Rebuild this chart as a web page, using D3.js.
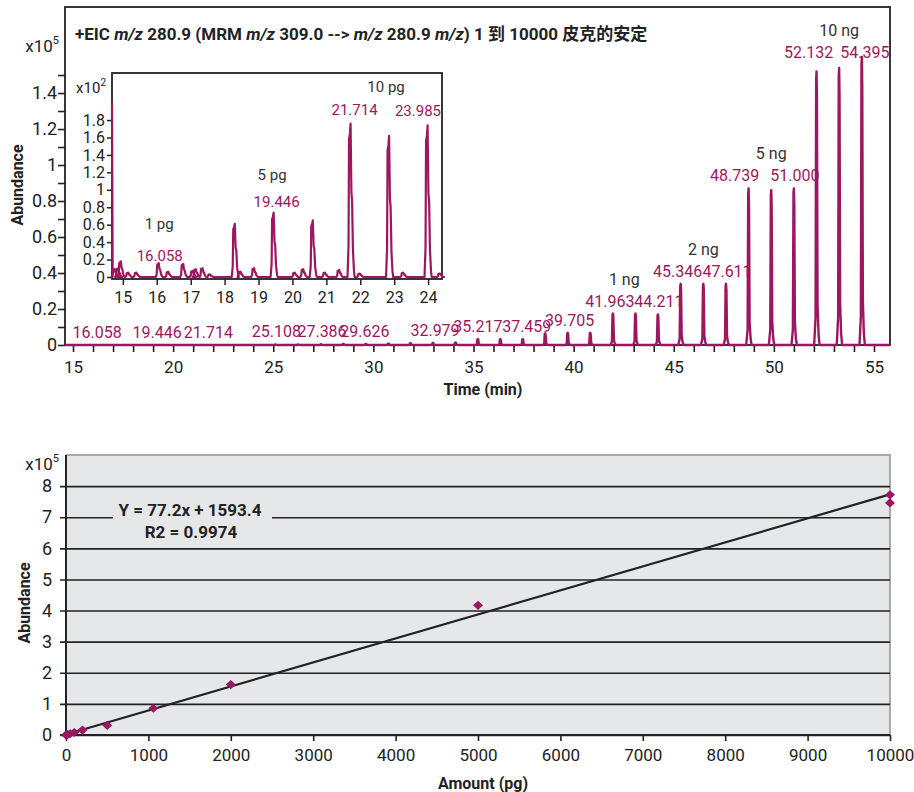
<!DOCTYPE html>
<html>
<head>
<meta charset="utf-8">
<script src="https://cdn.jsdelivr.net/npm/d3@7"></script>
<style>
body { margin: 0; background: #fff; }
text { font-family: Roboto, "Liberation Sans", "Noto Sans CJK SC", sans-serif; }
</style>
</head>
<body>
<div id="chart"></div>
<script>
// EIC trace peaks: retention time (min) and abundance (x10^5)
var peakTimes = [25.108, 26.24, 27.386, 28.5, 29.626, 30.75, 31.85, 32.979, 34.10, 35.217, 36.34, 37.459,
    38.58, 39.705, 40.83, 41.963, 43.09, 44.211, 45.346, 46.48, 47.611, 48.739, 49.87, 51.000,
    52.132, 53.26, 54.395];
var peakHeights = [0.003, 0.003, 0.004, 0.006, 0.006, 0.008, 0.01, 0.012, 0.014, 0.033, 0.033, 0.033,
    0.065, 0.068, 0.068, 0.175, 0.175, 0.17, 0.34, 0.34, 0.34, 0.87, 0.86, 0.87,
    1.52, 1.54, 1.6];
var peakLabelTimes = [16.058, 19.446, 21.714, 25.108, 27.386, 29.626, 32.979, 35.217, 37.459, 39.705,
    41.963, 44.211, 45.346, 47.611, 48.739, 51.000, 52.132, 54.395];
var groupNames = ['1 ng', '2 ng', '5 ng', '10 ng'];
var groupTimes = [42.53, 46.48, 49.87, 53.26];

// inset, 15-24 min (abundance x10^2)
var insetTimes = [14.76, 14.86, 14.94, 15.16, 15.40, 16.058, 16.34, 16.78, 17.06, 17.15, 17.35, 17.57,
    18.30, 18.47, 18.87, 19.446, 20.07, 20.32, 20.60, 20.96, 21.38, 21.714, 21.99, 22.85,
    23.27, 23.985, 24.35];
var insetHeights = [0.09, 0.1, 0.18, 0.05, 0.05, 0.16, 0.06, 0.15, 0.07, 0.09, 0.1, 0.03,
    0.61, 0.06, 0.1, 0.74, 0.05, 0.09, 0.65, 0.05, 0.08, 1.76, 0.04, 1.62,
    0.05, 1.74, 0.04];
var insetStartLevel = 2.0;
var insetLabelTimes = [16.058, 19.446, 21.714, 23.985];
var insetGroupNames = ['1 pg', '5 pg', '10 pg'];
var insetGroupTimes = [16.07, 19.40, 22.76];

// calibration (amount pg, abundance x10^5)
var amounts = [1, 5, 10, 20, 50, 100, 200, 500, 1060, 2000, 5000, 10000, 10000];
var abundances = [0.0007, 0.003, 0.007, 0.015, 0.04, 0.08, 0.16, 0.31, 0.86, 1.62, 4.17, 7.72, 7.46];
var fitSlope = 77.2;
var fitIntercept = 1593.4;
var fitR2 = 0.9974;

var timeTicks = d3.range(15, 56, 1);
var abundTicks = d3.range(0, 1.55, 0.1);
var insetTimeTicks = d3.range(15, 25, 1);
var insetAbundTicks = d3.range(0, 1.85, 0.2);
var amountTicks = d3.range(0, 10001, 1000);
var calTicks = d3.range(0, 9, 1);

// label nudges in px, same order as the label lists
var labelDx = [3, -5, 1, 1, 1, -1, 2, 0, 4, 2, -3, 1, -3, 1, -14, 1, -8, 3];
var labelDy = [0, 0, 0, 0, 0, 0, 0, 0, 0, 0, 0, 0, 0, 0, 0, 0, -6, 0];
var insetLabelDx = [1, 3, 4, 0];
var insetLabelDy = [3, 0, -4, -4];

var PURPLE = '#9c1760';

var svg = d3.select('#chart').append('svg')
    .attr('width', 914)
    .attr('height', 792);

function fmt(d) {
    return String(Math.round(d * 10) / 10);
}

// peak outline in (dt, fraction of height)
var mainShape = [[-0.12, 0], [-0.05, 0.1], [-0.02, 0.97], [0, 1], [0.02, 0.9], [0.05, 0.15], [0.1, 0.04], [0.15, 0]];
var insetShape = [[-0.09, 0], [-0.06, 0.2], [-0.045, 0.9], [-0.02, 0.93], [0, 1], [0.025, 0.55], [0.045, 0.5],
    [0.07, 0.18], [0.1, 0.04], [0.12, 0]];

function tracePoints(times, heights, shape, t0, t1, start) {
    var pts = [[t0, start || 0], [t0 + 0.02, 0]];
    for (var i = 0; i < times.length; i++) {
        for (var j = 0; j < shape.length; j++) {
            pts.push([times[i] + shape[j][0], heights[i] * shape[j][1]]);
        }
    }
    pts.push([t1, 0]);
    return pts;
}

function heightNear(times, heights, t, w) {
    var m = 0;
    for (var i = 0; i < times.length; i++) {
        if (Math.abs(times[i] - t) <= w) m = Math.max(m, heights[i]);
    }
    return m;
}

/* ---------- top chromatogram ---------- */
var x = d3.scaleLinear().domain([14.6, 55.8]).range([65, 890]);
var y = d3.scaleLinear().domain([0, 1.878]).range([345, 7]);

var chrom = svg.append('g');

chrom.append('g')
    .attr('transform', 'translate(0,345)')
    .call(d3.axisBottom(x).tickValues(timeTicks).tickSize(7).tickSizeOuter(0)
        .tickFormat(function (d) { return d % 5 === 0 ? d : ''; }))
    .call(function (g) {
        g.select('.domain').remove();
        g.selectAll('line').attr('stroke', '#222').attr('stroke-width', 1.6);
        g.selectAll('text').attr('font-size', 17).attr('fill', '#222').attr('dy', '1.05em');
    });

chrom.append('g')
    .attr('transform', 'translate(65,0)')
    .call(d3.axisLeft(y).tickValues(abundTicks).tickSize(7).tickSizeOuter(0)
        .tickFormat(function (d) { return Math.round(d * 10) % 2 === 0 ? fmt(d) : ''; }))
    .call(function (g) {
        g.select('.domain').remove();
        g.selectAll('line').attr('stroke', '#222').attr('stroke-width', 1.6);
        g.selectAll('text').attr('font-size', 18).attr('fill', '#222').attr('x', -8);
    });

chrom.append('rect')
    .attr('x', 65).attr('y', 7)
    .attr('width', 825).attr('height', 338)
    .attr('fill', 'none')
    .attr('stroke', '#222')
    .attr('stroke-width', 1.8);

var line = d3.line()
    .x(function (d) { return x(d[0]); })
    .y(function (d) { return y(d[1]); });

var labelY = function (h) {
    return Math.max(58, y(h) - 7);
};

chrom.selectAll('.plabel')
    .data(peakLabelTimes)
    .enter().append('text')
    .attr('class', 'plabel')
    .attr('x', function (d, i) { return x(d) + labelDx[i]; })
    .attr('y', function (d, i) { return labelY(heightNear(peakTimes, peakHeights, d, 0.05)) + labelDy[i]; })
    .attr('text-anchor', 'middle')
    .attr('font-size', 16)
    .attr('fill', PURPLE)
    .text(function (d) { return d.toFixed(3); });

chrom.selectAll('.glabel')
    .data(groupNames)
    .enter().append('text')
    .attr('class', 'glabel')
    .attr('x', function (d, i) { return x(groupTimes[i]); })
    .attr('y', function (d, i) { return labelY(heightNear(peakTimes, peakHeights, groupTimes[i], 1.2)) - 22; })
    .attr('text-anchor', 'middle')
    .attr('font-size', 16)
    .attr('fill', '#333')
    .text(function (d) { return d; });

chrom.append('path')
    .datum(tracePoints(peakTimes, peakHeights, mainShape, 14.6, 55.8))
    .attr('d', line)
    .attr('fill', 'none')
    .attr('stroke', PURPLE)
    .attr('stroke-width', 2.4)
    .attr('stroke-linejoin', 'round');

var title = chrom.append('text')
    .attr('x', 75).attr('y', 40)
    .attr('font-size', 17)
    .attr('font-weight', 'bold')
    .attr('fill', '#222');
var titleParts = [['+EIC ', false], ['m/z', true], [' 280.9 (MRM ', false], ['m/z', true], [' 309.0 --> ', false],
    ['m/z', true], [' 280.9 ', false], ['m/z', true], [') 1 到 10000 皮克的安定', false]];
titleParts.forEach(function (p) {
    title.append('tspan')
        .attr('font-style', p[1] ? 'italic' : 'normal')
        .text(p[0]);
});

var yExp = chrom.append('text').attr('x', 59).attr('y', 52).attr('text-anchor', 'end')
    .attr('font-size', 17).attr('fill', '#222');
yExp.append('tspan').text('x10');
yExp.append('tspan').attr('font-size', 11).attr('dy', -8).text('5');

chrom.append('text')
    .attr('transform', 'translate(23,185) rotate(-90)')
    .attr('text-anchor', 'middle')
    .attr('font-size', 16)
    .attr('font-weight', 'bold')
    .attr('fill', '#222')
    .text('Abundance');

chrom.append('text')
    .attr('x', 483).attr('y', 395)
    .attr('text-anchor', 'middle')
    .attr('font-size', 16)
    .attr('font-weight', 'bold')
    .attr('fill', '#222')
    .text('Time (min)');

/* ---------- inset ---------- */
var ix = d3.scaleLinear().domain([14.68, 24.41]).range([112, 442]);
var iy = d3.scaleLinear().domain([0, 2.34]).range([277, 73]);

var inset = svg.append('g');
inset.append('rect')
    .attr('x', 112).attr('y', 73)
    .attr('width', 330).attr('height', 206)
    .attr('fill', '#fff')
    .attr('stroke', '#222')
    .attr('stroke-width', 1.8);

inset.append('g')
    .attr('transform', 'translate(0,279)')
    .call(d3.axisBottom(ix).tickValues(insetTimeTicks).tickSize(6).tickSizeOuter(0))
    .call(function (g) {
        g.select('.domain').remove();
        g.selectAll('line').attr('stroke', '#222').attr('stroke-width', 1.5);
        g.selectAll('text').attr('font-size', 16).attr('fill', '#222').attr('dy', '0.95em');
    });

inset.append('g')
    .attr('transform', 'translate(112,0)')
    .call(d3.axisLeft(iy).tickValues(insetAbundTicks).tickSize(5).tickSizeOuter(0).tickFormat(fmt))
    .call(function (g) {
        g.select('.domain').remove();
        g.selectAll('line').attr('stroke', '#222').attr('stroke-width', 1.5);
        g.selectAll('text').attr('font-size', 16).attr('fill', '#222').attr('x', -7);
    });

var iExp = inset.append('text').attr('x', 106).attr('y', 93).attr('text-anchor', 'end')
    .attr('font-size', 15).attr('fill', '#222');
iExp.append('tspan').text('x10');
iExp.append('tspan').attr('font-size', 10).attr('dy', -7).text('2');

var iline = d3.line()
    .x(function (d) { return ix(d[0]); })
    .y(function (d) { return iy(d[1]); });

var iLabelY = function (h) {
    return iy(h) - 5;
};

inset.selectAll('.iplabel')
    .data(insetLabelTimes)
    .enter().append('text')
    .attr('class', 'iplabel')
    .attr('x', function (d, i) { return Math.min(ix(d) + insetLabelDx[i], 418); })
    .attr('y', function (d, i) { return iLabelY(heightNear(insetTimes, insetHeights, d, 0.05)) + insetLabelDy[i]; })
    .attr('text-anchor', 'middle')
    .attr('font-size', 15)
    .attr('fill', PURPLE)
    .text(function (d) { return d.toFixed(3); });

inset.selectAll('.iglabel')
    .data(insetGroupNames)
    .enter().append('text')
    .attr('class', 'iglabel')
    .attr('x', function (d, i) { return ix(insetGroupTimes[i]); })
    .attr('y', function (d, i) { return iLabelY(heightNear(insetTimes, insetHeights, insetGroupTimes[i], 1.2)) - 27; })
    .attr('text-anchor', 'middle')
    .attr('font-size', 15)
    .attr('fill', '#333')
    .text(function (d) { return d; });

inset.append('path')
    .datum(tracePoints(insetTimes, insetHeights, insetShape, 14.68, 24.41, insetStartLevel))
    .attr('d', iline)
    .attr('fill', 'none')
    .attr('stroke', PURPLE)
    .attr('stroke-width', 2.2)
    .attr('stroke-linejoin', 'round');

/* ---------- calibration curve ---------- */
var cx = d3.scaleLinear().domain([0, 10000]).range([66, 890]);
var cy = d3.scaleLinear().domain([0, 9]).range([735, 455]);

var cal = svg.append('g');
cal.append('rect')
    .attr('x', 66).attr('y', 455)
    .attr('width', 824).attr('height', 280)
    .attr('fill', '#e6e7e8');
cal.append('path')
    .attr('d', 'M66,455H890V735')
    .attr('fill', 'none')
    .attr('stroke', '#a7a9ac')
    .attr('stroke-width', 2);

cal.append('g')
    .attr('transform', 'translate(890,0)')
    .call(d3.axisLeft(cy).tickValues(calTicks).tickSize(830).tickSizeOuter(0))
    .call(function (g) {
        g.select('.domain').remove();
        g.selectAll('line').attr('stroke', '#222').attr('stroke-width', 1.6);
        g.selectAll('text').attr('font-size', 18).attr('fill', '#222').attr('x', -838);
    });

cal.append('g')
    .attr('transform', 'translate(0,735)')
    .call(d3.axisBottom(cx).tickValues(amountTicks).tickSize(6).tickSizeOuter(0).tickFormat(d3.format('d')))
    .call(function (g) {
        g.select('.domain').attr('d', 'M60,0H890').attr('stroke', '#222').attr('stroke-width', 2);
        g.selectAll('line').attr('stroke', '#222').attr('stroke-width', 1.6);
        g.selectAll('text').attr('font-size', 17).attr('fill', '#222').attr('dy', '1em');
    });

cal.append('line')
    .attr('x1', 66).attr('x2', 66)
    .attr('y1', 455).attr('y2', 735)
    .attr('stroke', '#222')
    .attr('stroke-width', 2);

// fit label box breaks the 7 gridline
cal.append('rect')
    .attr('x', 113).attr('y', 500)
    .attr('width', 159).attr('height', 44)
    .attr('fill', '#e6e7e8');
cal.append('text')
    .attr('x', 190).attr('y', 516)
    .attr('text-anchor', 'middle')
    .attr('font-size', 17)
    .attr('font-weight', 'bold')
    .attr('fill', '#222')
    .text('Y = ' + fitSlope + 'x + ' + fitIntercept);
cal.append('text')
    .attr('x', 191).attr('y', 538)
    .attr('text-anchor', 'middle')
    .attr('font-size', 17)
    .attr('font-weight', 'bold')
    .attr('fill', '#222')
    .text('R2 = ' + fitR2);

cal.append('line')
    .attr('x1', cx(0)).attr('y1', cy(fitIntercept / 1e5))
    .attr('x2', cx(10000)).attr('y2', cy((fitSlope * 10000 + fitIntercept) / 1e5))
    .attr('stroke', '#222')
    .attr('stroke-width', 2.2);

cal.selectAll('.pt')
    .data(amounts)
    .enter().append('path')
    .attr('class', 'pt')
    .attr('d', d3.symbol().type(d3.symbolDiamond).size(34))
    .attr('transform', function (d, i) {
        return 'translate(' + cx(d) + ',' + cy(abundances[i]) + ') scale(1.6,0.85)';
    })
    .attr('fill', PURPLE);

var cExp = cal.append('text').attr('x', 59).attr('y', 470).attr('text-anchor', 'end')
    .attr('font-size', 17).attr('fill', '#222');
cExp.append('tspan').text('x10');
cExp.append('tspan').attr('font-size', 11).attr('dy', -8).text('5');

cal.append('text')
    .attr('transform', 'translate(30,603) rotate(-90)')
    .attr('text-anchor', 'middle')
    .attr('font-size', 16)
    .attr('font-weight', 'bold')
    .attr('fill', '#222')
    .text('Abundance');

cal.append('text')
    .attr('x', 483).attr('y', 789)
    .attr('text-anchor', 'middle')
    .attr('font-size', 16)
    .attr('font-weight', 'bold')
    .attr('fill', '#222')
    .text('Amount (pg)');
</script>
</body>
</html>
